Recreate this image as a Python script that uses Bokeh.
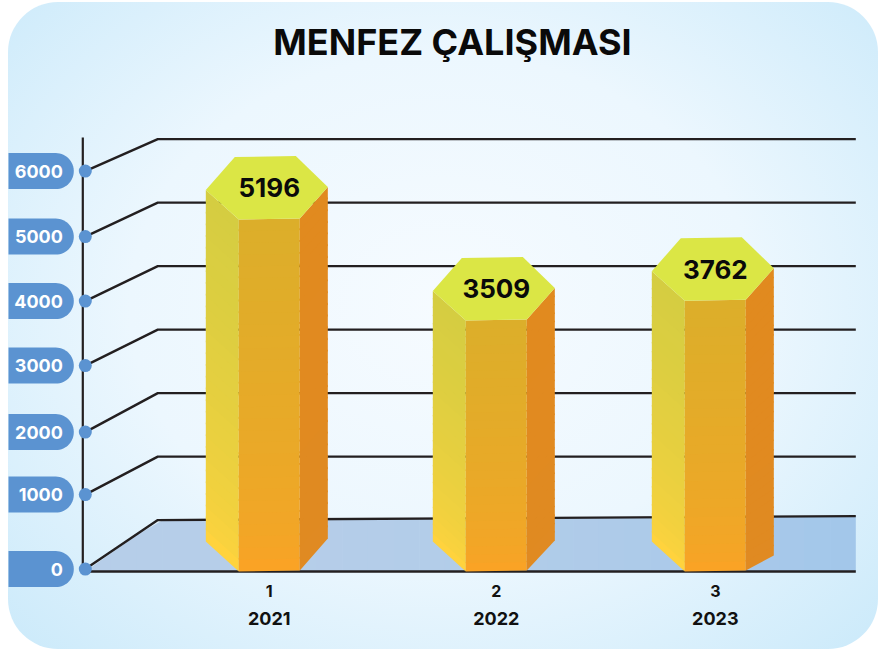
from bokeh.plotting import figure
from bokeh.models import Range1d
from bokeh.core.properties import value
from bokeh.embed import file_html
from bokeh.resources import INLINE
import numpy as np

# ---- data ----
title = "MENFEZ ÇALIŞMASI"
y_ticks = [0, 1000, 2000, 3000, 4000, 5000, 6000]
series_index = ["1", "2", "3"]
years = ["2021", "2022", "2023"]
labels = [5196, 3509, 3762]
# hexagon-centre heights as drawn, read against the back grid
drawn_tops = [5230, 3640, 3950]

# ---- layout (pixels of the page) ----
W, H, LEFT, TOP = 870, 647, 8, 2
BACK_ZERO, UNIT = 519.6, 0.0635
def v(py):
    return (BACK_ZERO - np.asarray(py, dtype=float)) / UNIT

front_drop = [49, 38, 39, 36, 35, 34, 32]
bar_cx = [269.5, 496.5, 715.5]
hex_off = [(-34.5, -31), (26.5, -32), (58.5, -1), (30.5, 30.5), (-30.5, 31.5), (-63.5, 2)]
left_foot = [541, 541, 541]
right_foot = [538, 540, 555]
FLOOR_Y, AXIS_X, DOT_X, BACK_X, END_X = 571, 83, 85.5, 158, 856
INK = "#231f20"
BLUE = "#5b93d1"
NUDGE = 0.7

p = figure(width=W, height=H, x_range=Range1d(LEFT + NUDGE, LEFT + W + NUDGE),
           y_range=Range1d(float(v(TOP + H)), float(v(TOP))),
           output_backend="svg", toolbar_location=None, min_border=0,
           background_fill_alpha=0, border_fill_alpha=0, outline_line_color=None)
p.margin = (TOP, 0, 2, LEFT)
p.styles = {"background": "radial-gradient(ellipse 72% 78% at 50% 47%, #f6fbff 0%, #ecf7fe 50%, #c9e9fa 100%)",
            "border-radius": "50px"}
p.axis.visible = False
p.grid.visible = False

def mix(a, b, t):
    a = np.array([int(a[i:i+2], 16) for i in (1, 3, 5)])
    b = np.array([int(b[i:i+2], 16) for i in (1, 3, 5)])
    c = (a + (b - a) * t).round().astype(int)
    return "#%02x%02x%02x" % tuple(c)

# floor, shaded left to right
floor_x = np.linspace(DOT_X, END_X, 31)
def back(x):
    if x < BACK_X:
        return FLOOR_Y + (x - DOT_X) * (BACK_ZERO - FLOOR_Y) / (BACK_X - DOT_X)
    return BACK_ZERO - (x - BACK_X) * 4 / (END_X - BACK_X)
for i in range(30):
    xa, xb = floor_x[i], min(floor_x[i + 1] + 0.6, END_X)
    p.patch([xa, xb, xb, xa], v([back(xa), back(xb), FLOOR_Y, FLOOR_Y]),
            fill_color=mix("#b6cee9", "#a3c7ea", (i / 29) ** 2.2), line_color=None)

# back grid and the diagonals that lead to the dots
front_py = [BACK_ZERO - t * UNIT + d for t, d in zip(y_ticks, front_drop)]
for t, fy in zip(y_ticks, front_py):
    by = BACK_ZERO - t * UNIT
    end = by - 4 if t == 0 else by
    p.line([DOT_X, BACK_X, END_X], v([fy, by, end]), line_color=INK, line_width=2.4)
p.line([DOT_X, END_X], v([FLOOR_Y, FLOOR_Y]), line_color=INK, line_width=2.6)
p.line([AXIS_X, AXIS_X], v([137, FLOOR_Y]), line_color=INK, line_width=2.2)

# value pills and dots
for t, fy in zip(y_ticks, front_py):
    a = np.linspace(-np.pi / 2, np.pi / 2, 30)
    r = 18
    px = np.r_[LEFT, 74 - r + r * np.cos(a), LEFT]
    py = np.r_[fy - r, fy + r * np.sin(a), fy + r]
    p.patch(px, v(py), fill_color=BLUE, line_color=None)
    p.text([63], [float(v(fy))], text=[str(t)], text_color="white", text_align="right",
           text_baseline="middle", text_font=value("Inter"), text_font_style="bold", text_font_size="18px")
    p.scatter([DOT_X], [float(v(fy))], size=13, fill_color=BLUE, line_color=None)

# hexagonal columns, faces shaded in bands from foot to head
BANDS = 30
for cx, top, lab, lf, rf, idx, yr in zip(bar_cx, drawn_tops, labels, left_foot, right_foot, series_index, years):
    cy = BACK_ZERO - top * UNIT
    hx = [cx + o[0] for o in hex_off]
    hy = [cy + o[1] for o in hex_off]
    faces = [
        ((hx[5], hy[5], lf), (hx[4], hy[4], FLOOR_Y), "#ffd33d", "#d5cd41"),
        ((hx[4], hy[4], FLOOR_Y), (hx[3], hy[3], FLOOR_Y - 1), "#faa325", "#dcae2a"),
        ((hx[3], hy[3], FLOOR_Y - 1), (hx[2], hy[2], rf), "#e08a22", "#e18a1f"),
    ]
    for (xa, ta, ba), (xb, tb, bb), c0, c1 in faces:
        for i in range(BANDS):
            f0, f1 = i / BANDS, min(1, (i + 1.15) / BANDS)
            ya0, ya1 = ba + (ta - ba) * f0, ba + (ta - ba) * f1
            yb0, yb1 = bb + (tb - bb) * f0, bb + (tb - bb) * f1
            p.patch([xa, xb, xb, xa], v([ya0, yb0, yb1, ya1]),
                    fill_color=mix(c0, c1, (i / (BANDS - 1)) ** 0.6), line_color=None)
    p.patch(hx, v(hy), fill_color="#dbe645", line_color=None)
    p.text([cx], [float(v(cy))], text=[str(lab)], text_color="#0a0a0a", text_align="center",
           text_baseline="middle", text_font=value("Inter"), text_font_style="bold", text_font_size="26px")
    p.text([cx], [float(v(590))], text=[idx], text_color="#111111", text_align="center",
           text_baseline="middle", text_font=value("Inter"), text_font_style="bold", text_font_size="16px")
    p.text([cx], [float(v(618))], text=[yr], text_color="#111111", text_align="center",
           text_baseline="middle", text_font=value("Inter"), text_font_style="bold", text_font_size="18px")

p.text([452.7], [float(v(41))], text=[title], text_color="#0a0a0a", text_align="center",
       text_baseline="middle", text_font=value("Inter"), text_font_style="bold", text_font_size="36px")

open("out.html", "w").write(file_html(p, INLINE))
